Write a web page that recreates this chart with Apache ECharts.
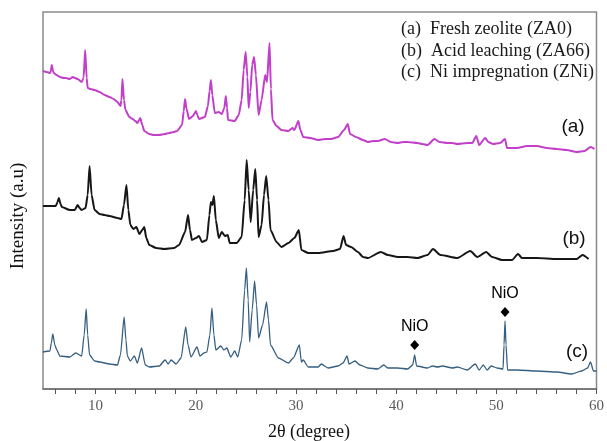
<!DOCTYPE html>
<html>
<head>
<meta charset="utf-8">
<script src="https://cdn.jsdelivr.net/npm/echarts@6/dist/echarts.min.js"></script>
<style>
html, body { margin: 0; padding: 0; background: #fff; }
#chart { width: 607px; height: 441px; }
</style>
</head>
<body>
<div id="chart"></div>
<script>
// 2θ ticks (minor every 2°, labels every 10°)
var tickValues = [6, 8, 10, 12, 14, 16, 18, 20, 22, 24, 26, 28, 30, 32, 34, 36, 38, 40, 42, 44, 46, 48, 50, 52, 54, 56, 58, 60];
var tickLabels = [10, 20, 30, 40, 50, 60];
var seriesNames = ['(a)\u2002Fresh zeolite (ZA0)', '(b)\u2002Acid leaching (ZA66)', '(c)\u2002Ni impregnation (ZNi)'];

// (a) fresh zeolite, [2θ, intensity a.u. incl. offset]
var freshZA0 = [
  [4.75, 318], [5.1, 317], [5.45, 316], [5.53, 318], [5.63, 324], [5.75, 318], [5.83, 316], [6.1, 314], [6.45, 312],
  [6.8, 311], [7.05, 311], [7.4, 310], [7.72, 312], [7.95, 311], [8.21, 310], [8.61, 307], [8.8, 311], [8.96, 339],
  [9.11, 311], [9.21, 301], [9.5, 300], [9.9, 299], [10.4, 297], [10.9, 294],
  [11.39, 292], [11.8, 290], [12.18, 287], [12.48, 283], [12.58, 289], [12.68, 310], [12.83, 289], [12.98, 279],
  [13.37, 272], [13.7, 270], [13.97, 268], [14.17, 266], [14.35, 269], [14.46, 271], [14.66, 264], [14.86, 258], [15.36, 255],
  [15.8, 254], [16.35, 254], [16.9, 255], [17.34, 256], [17.8, 257], [18.13, 258], [18.63, 264], [18.8, 278], [18.93, 290],
  [19.08, 280], [19.33, 270], [19.72, 273], [19.9, 276], [20.02, 278], [20.15, 274], [20.32, 270], [20.91, 272],
  [21.21, 283], [21.38, 298], [21.51, 309], [21.65, 294], [21.9, 276], [22.3, 277], [22.6, 275], [22.85, 281],
  [23.0, 293], [23.12, 281], [23.22, 269], [23.89, 268], [24.29, 274], [24.58, 289], [24.78, 319], [24.98, 337],
  [25.15, 312], [25.28, 281], [25.45, 297], [25.63, 324], [25.82, 332], [26.0, 314], [26.27, 274], [26.57, 289],
  [26.93, 314], [27.11, 307], [27.36, 346], [27.5, 300], [27.66, 269], [28.06, 263], [28.55, 259], [29.25, 258],
  [29.64, 261], [29.84, 259], [30.24, 268], [30.44, 259], [30.73, 252], [31.43, 251], [32.22, 249], [32.9, 250],
  [33.51, 250], [34.21, 252], [34.8, 259], [35.17, 265], [35.4, 255], [35.99, 252], [36.69, 249],
  [37.18, 247], [37.7, 248], [38.17, 248], [38.87, 250], [39.47, 247], [40.16, 246], [40.7, 247], [41.15, 247], [42.14, 246],
  [42.6, 245], [43.13, 244], [43.83, 250], [44.33, 247], [45.12, 246], [45.6, 246], [46.11, 245], [47.1, 246], [47.6, 246],
  [48.0, 253], [48.29, 244], [48.89, 251], [49.19, 247], [49.68, 245], [50.38, 246], [50.87, 250],
  [51.07, 241], [52.06, 241], [53.06, 243], [54.05, 243], [55.04, 241], [56.03, 240], [57.02, 239],
  [58.02, 237], [58.81, 238], [59.4, 242], [59.8, 240]
];

// (b) acid leaching
var acidZA66 = [
  [4.75, 183], [5.44, 183], [6.03, 183], [6.2, 187], [6.33, 191], [6.5, 185], [6.63, 182], [7.42, 179], [7.92, 179],
  [8.21, 184], [8.4, 181], [8.61, 179], [9.0, 181], [9.21, 194], [9.4, 223], [9.6, 194], [9.9, 179], [10.4, 175],
  [10.89, 174], [11.39, 173], [12.18, 171], [12.58, 170], [12.83, 184], [13.08, 204], [13.27, 179], [13.47, 164],
  [13.77, 160], [14.07, 162], [14.37, 155], [14.66, 159], [14.86, 162], [15.06, 151], [15.36, 144],
  [16.05, 141], [16.85, 140], [17.84, 141], [18.33, 144], [18.93, 157], [19.23, 174], [19.42, 159],
  [19.62, 149], [20.02, 151], [20.32, 153], [20.62, 147], [21.11, 149], [21.36, 174], [21.51, 187],
  [21.66, 184], [21.81, 193], [22.0, 169], [22.3, 151], [22.6, 157], [22.9, 153], [23.19, 154],
  [23.39, 146], [24.09, 146], [24.58, 152], [24.88, 189], [25.08, 229], [25.28, 199], [25.48, 167],
  [25.73, 199], [25.94, 220], [26.12, 189], [26.27, 152], [26.57, 164], [26.81, 194], [27.03, 213],
  [27.26, 189], [27.46, 159], [28.06, 147], [28.55, 142], [29.25, 146], [29.84, 151], [30.29, 159],
  [30.54, 139], [31.23, 136], [32.22, 136], [33.71, 138], [34.4, 140], [34.75, 153], [35.0, 144],
  [35.5, 142], [36.19, 137], [36.69, 132], [37.18, 131], [38.47, 137], [39.17, 134], [40.16, 132],
  [41.15, 132], [42.14, 131], [43.13, 134], [43.68, 140], [44.42, 134], [46.11, 131], [47.4, 138],
  [48.1, 132], [48.99, 137], [49.58, 132], [50.58, 129], [51.57, 129], [52.16, 135], [52.56, 131],
  [54.05, 131], [56.03, 130], [58.02, 130], [58.61, 134], [59.21, 130]
];

// (c) Ni impregnation
var niZNi = [
  [4.75, 37], [5.44, 38], [5.58, 46], [5.73, 55], [5.93, 44], [6.13, 39], [6.43, 33], [7.42, 32],
  [8.02, 36], [8.61, 33], [8.86, 54], [9.06, 80], [9.21, 54], [9.4, 34], [9.9, 28], [10.4, 27],
  [11.39, 25], [12.18, 24], [12.48, 34], [12.85, 72], [13.03, 49], [13.17, 33], [13.47, 28],
  [13.87, 33], [14.17, 26], [14.59, 41], [14.96, 24], [15.36, 22], [16.35, 23], [16.94, 29],
  [17.24, 25], [17.54, 29], [18.04, 25], [18.53, 31], [19.0, 62], [19.23, 44], [19.52, 32],
  [20.12, 42], [20.42, 33], [20.81, 36], [21.11, 37], [21.41, 54], [21.61, 81], [21.81, 54],
  [22.0, 39], [22.5, 43], [22.8, 39], [23.1, 41], [23.49, 32], [23.89, 38], [24.19, 32], [24.58, 49],
  [24.88, 99], [25.05, 121], [25.23, 89], [25.38, 47], [25.63, 79], [25.87, 108], [26.07, 84],
  [26.27, 51], [26.67, 64], [27.06, 87], [27.26, 69], [27.46, 44], [28.25, 31], [29.25, 26],
  [29.74, 31], [30.34, 44], [30.54, 27], [30.73, 29], [31.23, 22], [32.22, 22], [32.52, 25],
  [33.21, 21], [34.21, 23], [34.7, 26], [35.1, 33], [35.3, 25], [35.89, 28], [36.39, 24], [37.18, 21],
  [38.17, 20], [38.77, 24], [39.17, 21], [40.16, 21], [41.15, 20], [41.65, 24], [41.85, 34],
  [42.04, 23], [43.13, 21], [43.63, 23], [44.13, 22], [44.62, 23], [45.62, 21], [46.11, 22],
  [47.1, 19], [47.9, 25], [48.29, 19], [48.69, 24], [49.09, 19], [49.48, 23], [50.08, 21], [50.67, 20],
  [50.77, 44], [50.87, 68], [50.97, 44], [51.12, 19], [52.06, 19], [54.05, 18], [56.03, 17],
  [57.52, 15], [58.51, 18], [59.11, 21], [59.4, 27], [59.7, 18], [60.0, 18]
];

// NiO reflections (diamond markers)
var nioPeaks = [[41.85, 44], [50.87, 77]];

var myChart = echarts.init(document.getElementById('chart'));
var serif = '"Liberation Serif", "Times New Roman", serif';
var sans = '"Liberation Sans", Arial, sans-serif';

var option = {
    animation: false,
    backgroundColor: '#fff',
    grid: {
        left: 43, right: 7, top: 12, bottom: 52,
        show: true,
        borderColor: '#8a8a8a',
        borderWidth: 1.5
    },
    xAxis: {
        type: 'value',
        min: 4.75,
        max: 60,
        axisLine: { show: true, lineStyle: { color: '#6e6e6e', width: 1.5 } },
        axisTick: {
            show: true, inside: false, length: 5,
            customValues: tickValues,
            lineStyle: { color: '#555', width: 1 }
        },
        axisLabel: {
            customValues: tickLabels,
            margin: 10,
            color: '#5a5a5a',
            fontFamily: serif,
            fontSize: 15
        },
        splitLine: { show: false }
    },
    yAxis: {
        type: 'value',
        min: 0,
        max: 377,
        axisLine: { show: false },
        axisTick: { show: false },
        axisLabel: { show: false },
        splitLine: { show: false }
    },
    series: [
        {
            name: seriesNames[0], type: 'line', data: freshZA0,
            showSymbol: false, smooth: 0.2, smoothMonotone: 'x',
            lineStyle: { color: '#c23fca', width: 2 }
        },
        {
            name: seriesNames[1], type: 'line', data: acidZA66,
            showSymbol: false, smooth: 0.2, smoothMonotone: 'x',
            lineStyle: { color: '#161616', width: 2 }
        },
        {
            name: seriesNames[2], type: 'line', data: niZNi,
            showSymbol: false, smooth: 0.2, smoothMonotone: 'x',
            lineStyle: { color: '#365f80', width: 1.3 }
        },
        {
            name: 'NiO', type: 'scatter', data: nioPeaks,
            symbol: 'diamond', symbolSize: [9, 10],
            itemStyle: { color: '#000', opacity: 1 },
            label: {
                show: true, position: 'top', distance: 5,
                formatter: 'NiO',
                color: '#000', textBorderWidth: 0, opacity: 1,
                fontFamily: sans, fontSize: 16
            }
        }
    ],
    graphic: [
        { type: 'text', left: 401, top: 20, style: { text: seriesNames[0], font: '18px ' + serif, fill: '#1a1a1a' } },
        { type: 'text', left: 401, top: 42, style: { text: seriesNames[1], font: '18px ' + serif, fill: '#1a1a1a' } },
        { type: 'text', left: 401, top: 63, style: { text: seriesNames[2], font: '18px ' + serif, fill: '#1a1a1a' } },
        { type: 'text', x: 573, y: 127, style: { text: '(a)', font: '19px ' + sans, fill: '#111', textAlign: 'center', textVerticalAlign: 'middle' } },
        { type: 'text', x: 574, y: 239, style: { text: '(b)', font: '19px ' + sans, fill: '#111', textAlign: 'center', textVerticalAlign: 'middle' } },
        { type: 'text', x: 577, y: 352, style: { text: '(c)', font: '19px ' + sans, fill: '#111', textAlign: 'center', textVerticalAlign: 'middle' } },
        { type: 'text', x: 18, y: 216, rotation: Math.PI / 2, style: { text: 'Intensity (a.u)', font: '19px ' + serif, fill: '#111', textAlign: 'center', textVerticalAlign: 'middle' } },
        { type: 'text', x: 309, y: 432, style: { text: '2θ (degree)', font: '18px ' + serif, fill: '#111', textAlign: 'center', textVerticalAlign: 'middle' } }
    ]
};
myChart.setOption(option);
</script>
</body>
</html>
